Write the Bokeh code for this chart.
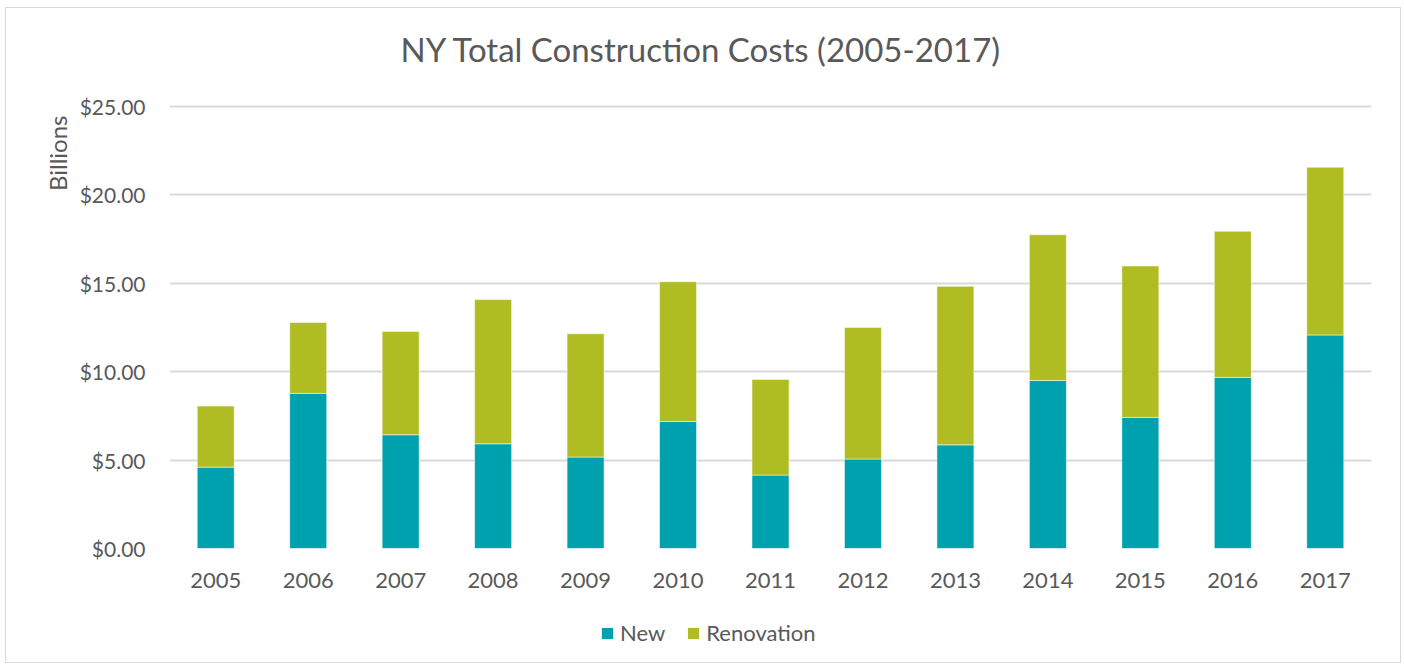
import math
from bokeh.plotting import figure
from bokeh.layouts import column
from bokeh.models import (ColumnDataSource, FactorRange, Legend, LegendItem, Title,
                          FixedTicker, NumeralTickFormatter, Range1d)
from bokeh.embed import file_html
from bokeh.resources import INLINE

years = ["2005", "2006", "2007", "2008", "2009", "2010", "2011",
         "2012", "2013", "2014", "2015", "2016", "2017"]
new = [4.60, 8.77, 6.43, 5.92, 5.17, 7.18, 4.15, 5.06, 5.86, 9.50, 7.41, 9.67, 12.07]
totals = [8.05, 12.78, 12.27, 14.07, 12.14, 15.08, 9.56, 12.50, 14.82, 17.74, 15.97, 17.93, 21.55]
renovation = [round(t - n, 2) for t, n in zip(totals, new)]
y_ticks = [0, 5, 10, 15, 20, 25]

title_text = "NY Total Construction Costs (2005-2017)"
y_label = "Billions"
series_names = ["New", "Renovation"]
colors = ["#00A1AF", "#B0BD22"]

FONT = "Lato"
TXT = "#595959"

src = ColumnDataSource(dict(years=years, new=new, renovation=renovation))

p = figure(x_range=FactorRange(*years, range_padding=0), y_range=Range1d(0, 25.1),
           width=1394, height=592, output_backend="svg", toolbar_location=None,
           title_location=None,
           min_border_left=163, min_border_right=29, min_border_top=96, min_border_bottom=52,
           background_fill_color="white", border_fill_color="white")
p.outline_line_color = None

rs = p.vbar_stack(["new", "renovation"], x="years", width=0.4, color=colors,
                  line_color="white", line_width=0.5, source=src)

p.xgrid.grid_line_color = None
p.ygrid.grid_line_color = "#d9d9d9"
p.ygrid.grid_line_width = 2
p.ygrid.ticker = FixedTicker(ticks=y_ticks)

p.yaxis.ticker = FixedTicker(ticks=y_ticks)
p.yaxis.formatter = NumeralTickFormatter(format="$0.00")
p.yaxis.axis_line_color = None
p.yaxis.major_tick_line_color = None
p.yaxis.minor_tick_line_color = None
p.yaxis.major_label_standoff = 18
p.yaxis.major_label_text_font = FONT
p.yaxis.major_label_text_font_size = "21px"
p.yaxis.major_label_text_color = TXT

p.xaxis.axis_line_color = None
p.xaxis.major_tick_line_color = None
p.xaxis.minor_tick_line_color = None
p.xaxis.major_label_standoff = 18
p.xaxis.major_label_text_font = FONT
p.xaxis.major_label_text_font_size = "22px"
p.xaxis.major_label_text_color = TXT

# title (spacer first, nearest the frame)
p.add_layout(Title(text="\u00a0", text_font_size="1px", standoff=30), "above")
p.add_layout(Title(text=title_text, align="left", offset=231, standoff=6,
                   text_font=FONT, text_font_size="33px", text_color=TXT,
                   text_font_style="normal"), "above")
p.add_layout(Title(text=y_label, align="right", offset=11, standoff=10,
                   text_font=FONT, text_font_size="24px", text_color=TXT,
                   text_font_style="normal"), "left")

# legend strip below the chart (its frame is aligned with the chart's frame)
lf = figure(width=1394, height=62, output_backend="svg", toolbar_location=None,
            title_location=None, x_axis_location=None, y_axis_location=None,
            min_border=0, background_fill_color="white", border_fill_color="white")
lf.outline_line_color = None
lf.grid.grid_line_color = None
lr = [lf.vbar(x=[0], top=[0], bottom=[0], width=0.4, fill_color=c, line_color=None)
      for c in colors]
legend = Legend(items=[LegendItem(label=n, renderers=[r]) for n, r in zip(series_names, lr)],
                location=(431, 16), orientation="horizontal",
                glyph_width=14, glyph_height=14, label_standoff=6, spacing=21,
                padding=0, margin=0, border_line_color=None, background_fill_alpha=0,
                label_text_font=FONT, label_text_font_size="22px", label_text_color=TXT)
lf.add_layout(legend, "center")

layout = column(p, lf, spacing=0,
                styles={"border": "1px solid #d9d9d9", "margin-left": "5px", "margin-top": "7px"})

open("out.html", "w").write(file_html(layout, INLINE))
